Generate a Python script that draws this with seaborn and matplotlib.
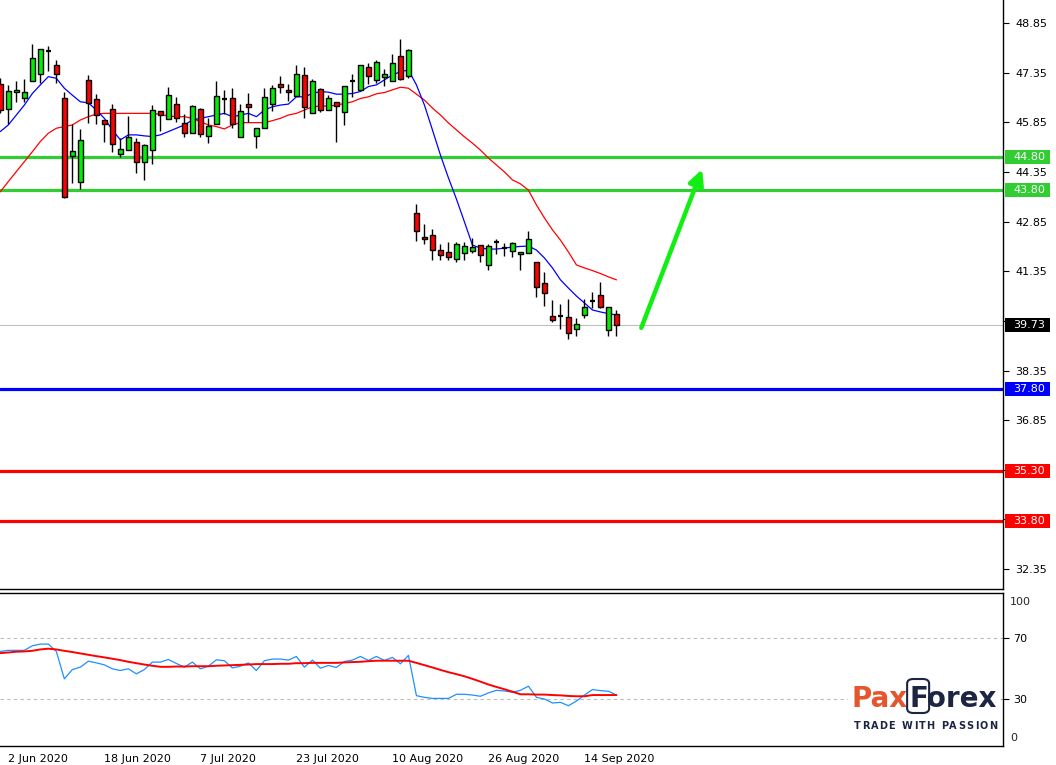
import numpy as np
import pandas as pd
import matplotlib
matplotlib.use("Agg")
import matplotlib.pyplot as plt
import matplotlib.transforms as mtransforms
from matplotlib.patches import Rectangle, FancyBboxPatch
import seaborn as sns

# ---------------- data ----------------
opens = [47.01, 46.24, 46.77, 46.58, 47.09, 47.30, 47.99, 47.57, 46.58, 44.82,
         44.06, 47.13, 46.56, 45.91, 46.24, 44.88, 45.00, 45.25, 44.64, 45.00,
         46.18, 45.94, 46.39, 45.82, 45.52, 46.24, 45.43, 45.79, 46.55, 46.58,
         45.40, 46.39, 45.43, 45.67, 46.39, 47.00, 46.83, 46.64, 47.27, 46.12,
         46.85, 46.21, 46.45, 46.15, 47.09, 46.82, 47.51, 47.12, 47.21, 47.09,
         47.84, 47.24, 43.11, 42.38, 42.44, 41.98, 41.92, 41.71, 41.89, 41.95,
         42.13, 41.53, 42.24, 42.04, 41.95, 41.86, 41.89, 41.62, 40.99, 39.99,
         40.01, 39.96, 39.60, 40.02, 40.46, 40.62, 39.57, 40.05]
highs = [47.19, 46.98, 47.11, 47.16, 48.22, 48.06, 48.16, 47.72, 46.76, 45.79,
         45.65, 47.28, 46.70, 45.91, 46.40, 45.37, 46.04, 45.37, 45.19, 46.36,
         46.18, 46.91, 46.60, 46.09, 46.36, 46.27, 45.97, 47.10, 46.83, 46.88,
         46.39, 46.73, 45.67, 46.88, 46.98, 47.25, 47.01, 47.58, 47.52, 47.15,
         46.88, 46.67, 46.45, 46.94, 47.30, 47.57, 47.64, 47.72, 47.45, 47.90,
         48.36, 48.06, 43.38, 42.78, 42.63, 42.16, 42.22, 42.22, 42.22, 42.35,
         42.13, 42.16, 42.32, 42.19, 42.24, 41.92, 42.56, 41.62, 41.32, 40.47,
         40.35, 40.50, 39.93, 40.50, 40.71, 41.02, 40.26, 40.17]
lows = [46.13, 45.80, 46.47, 46.47, 47.09, 47.03, 47.41, 47.03, 43.56, 44.02,
        43.84, 45.84, 45.80, 45.26, 44.96, 44.81, 45.00, 44.31, 44.11, 44.58,
        45.60, 45.94, 45.85, 45.40, 45.52, 45.42, 45.22, 45.79, 46.09, 45.67,
        45.40, 45.85, 45.08, 45.67, 46.18, 46.73, 46.50, 46.64, 45.97, 46.12,
        46.15, 46.21, 45.26, 45.76, 46.60, 46.82, 47.00, 47.03, 46.94, 47.09,
        47.12, 47.18, 42.27, 42.16, 41.70, 41.70, 41.68, 41.62, 41.68, 41.89,
        41.62, 41.38, 41.86, 41.82, 41.77, 41.38, 41.89, 40.56, 40.29, 39.81,
        39.60, 39.29, 39.38, 39.93, 40.23, 40.23, 39.38, 39.40]
closes = [46.22, 46.80, 46.83, 46.76, 47.78, 48.06, 47.99, 47.32, 43.58, 44.98,
          45.31, 46.42, 46.07, 45.79, 45.19, 45.03, 45.40, 44.64, 45.16, 46.21,
          46.06, 46.67, 45.97, 45.52, 46.33, 45.49, 45.73, 46.64, 46.55, 45.79,
          46.18, 46.30, 45.67, 46.60, 46.88, 46.91, 46.76, 47.30, 46.30, 47.09,
          46.21, 46.58, 46.33, 46.94, 47.09, 47.57, 47.24, 47.66, 47.30, 47.63,
          47.15, 48.03, 42.58, 42.32, 41.98, 41.83, 41.77, 42.16, 42.10, 42.07,
          41.83, 42.10, 42.24, 42.04, 42.19, 41.92, 42.32, 40.86, 40.68, 39.87,
          40.01, 39.48, 39.75, 40.26, 40.46, 40.26, 40.26, 39.73]

ma_fast = [45.57, 45.77, 46.07, 46.37, 46.72, 46.98, 47.23, 47.18, 46.88, 46.67,
           46.47, 46.44, 46.22, 45.97, 45.62, 45.32, 45.47, 45.47, 45.44, 45.42,
           45.47, 45.57, 45.67, 45.77, 45.92, 45.97, 46.02, 46.07, 46.12, 46.02,
           46.07, 46.12, 46.02, 46.22, 46.32, 46.37, 46.40, 46.62, 46.62, 46.72,
           46.78, 46.76, 46.70, 46.70, 46.72, 46.78, 46.93, 46.98, 47.13, 47.28,
           47.38, 47.43, 46.98, 46.37, 45.62, 44.86, 44.17, 43.53, 42.84, 42.14,
           42.05, 42.02, 42.02, 42.05, 42.08, 42.10, 42.11, 41.99, 41.75, 41.45,
           41.09, 40.84, 40.60, 40.39, 40.18, 40.12, 40.07, 40.03]
ma_slow = [43.75, 44.06, 44.36, 44.66, 44.96, 45.27, 45.52, 45.67, 45.72, 45.77,
           45.92, 46.02, 46.10, 46.12, 46.12, 46.12, 46.12, 46.12, 46.12, 46.12,
           46.09, 46.04, 46.02, 46.02, 45.97, 45.87, 45.77, 45.72, 45.65, 45.77,
           45.84, 45.84, 45.84, 45.84, 45.90, 45.97, 46.07, 46.12, 46.22, 46.32,
           46.34, 46.34, 46.37, 46.42, 46.47, 46.57, 46.62, 46.71, 46.75, 46.83,
           46.91, 46.88, 46.70, 46.52, 46.28, 46.07, 45.83, 45.62, 45.41, 45.22,
           45.01, 44.77, 44.56, 44.35, 44.11, 43.99, 43.80, 43.35, 42.96, 42.60,
           42.29, 41.93, 41.54, 41.45, 41.37, 41.28, 41.18, 41.09]

rsi = [61.2, 61.9, 61.9, 61.9, 64.9, 66.0, 66.0, 61.2, 43.2, 49.3,
       50.9, 54.8, 53.7, 52.4, 49.8, 48.7, 49.8, 46.5, 49.3, 54.2,
       54.2, 55.9, 53.3, 50.9, 54.2, 49.8, 51.5, 55.7, 55.1, 50.4,
       51.5, 53.7, 48.7, 55.1, 56.2, 56.2, 55.5, 57.9, 50.9, 55.5,
       50.2, 52.0, 50.7, 54.6, 55.5, 57.9, 55.3, 57.9, 55.3, 57.3,
       53.1, 58.6, 32.2, 31.1, 30.4, 30.4, 30.4, 33.1, 33.1, 32.6,
       31.8, 34.0, 35.7, 35.3, 34.4, 35.7, 38.4, 31.1, 30.0, 27.4,
       27.8, 25.6, 28.7, 32.6, 36.2, 35.5, 35.1, 32.6]
rsi_ma = [60.1, 60.5, 61.0, 61.2, 61.6, 62.5, 63.0, 62.5, 61.6, 60.8,
          59.9, 59.0, 58.1, 57.3, 56.4, 55.5, 54.4, 53.5, 52.6, 51.8,
          51.1, 51.1, 51.3, 51.3, 51.5, 51.5, 51.5, 51.8, 52.0, 52.2,
          52.4, 52.6, 52.9, 52.9, 52.9, 53.1, 53.1, 53.5, 53.5, 53.7,
          53.7, 53.7, 53.7, 54.0, 54.2, 54.4, 54.8, 55.1, 55.1, 55.1,
          55.1, 55.1, 53.7, 52.2, 50.7, 49.1, 47.6, 46.3, 44.9, 43.2,
          41.4, 39.5, 37.9, 36.4, 34.8, 33.1, 33.1, 32.9, 32.9, 32.6,
          32.4, 32.0, 31.8, 31.8, 32.6, 32.6, 32.6, 32.6]

date_labels = ["2 Jun 2020", "18 Jun 2020", "7 Jul 2020", "23 Jul 2020",
               "10 Aug 2020", "26 Aug 2020", "14 Sep 2020"]
date_bars = [1, 13, 25, 37, 49, 61, 73]

price_ticks = [48.85, 47.35, 45.85, 44.35, 42.85, 41.35, 39.85, 38.35, 36.85, 35.35, 33.85, 32.35]
level_values = [44.80, 43.80, 37.80, 35.30, 33.80]
level_colors = ["#32CD32", "#32CD32", "#0000FF", "#FF0000", "#FF0000"]
current_price = 39.73
rsi_levels = [70, 30]
arrow_from = (80.1, 39.64)
arrow_to = (87.7, 44.43)

# ---------------- figure ----------------
sns.set_style("white")
plt.rcParams["font.family"] = ["DejaVu Sans"]

W, H = 1056, 765
fig = plt.figure(figsize=(W / 100, H / 100), dpi=100)
fig.patch.set_facecolor("white")

ax = fig.add_axes([0, 1 - 589 / H, 1003 / W, 589 / H])
axr = fig.add_axes([0, 1 - 746 / H, 1003 / W, (746 - 593) / H])

idx = np.arange(len(closes))
df = pd.DataFrame({"i": idx, "o": opens, "h": highs, "l": lows, "c": closes,
                   "fast": ma_fast, "slow": ma_slow, "rsi": rsi, "rsi_ma": rsi_ma})

xlim = (-0.04, 125.3)

# ---- main price panel ----
ax.set_xlim(*xlim)
ax.set_ylim(31.75, 49.545)

for v, col in zip(level_values, level_colors):
    ax.axhline(v, color=col, lw=2.3, zorder=1)
ax.axhline(current_price, color="#C0C0C0", lw=0.8, zorder=1)

sns.lineplot(data=df, x="i", y="slow", ax=ax, color="#FF0000", lw=0.9, zorder=2)
sns.lineplot(data=df, x="i", y="fast", ax=ax, color="#0000FF", lw=0.9, zorder=2)

ax.vlines(df["i"], df["l"], df["h"], color="black", lw=1.0, zorder=3)
up = df["c"] > df["o"]
dn = df["c"] < df["o"]
eq = df["c"] == df["o"]
ax.bar(df["i"][up], (df["c"] - df["o"])[up], bottom=df["o"][up], width=0.62,
       color="#00EE00", edgecolor="black", linewidth=1.0, zorder=4)
ax.bar(df["i"][dn], (df["o"] - df["c"])[dn], bottom=df["c"][dn], width=0.62,
       color="#FF0000", edgecolor="black", linewidth=1.0, zorder=4)
ax.hlines(df["o"][eq], df["i"][eq] - 0.35, df["i"][eq] + 0.35, color="black", lw=1.6, zorder=4)

ax.annotate("", xy=arrow_to, xytext=arrow_from,
            arrowprops=dict(arrowstyle="-|>,head_length=0.9,head_width=0.45",
                            color="#11EE11", lw=3.2, shrinkA=0, shrinkB=0), zorder=5)

# tick labels hidden under the level boxes are left blank
covered = [current_price] + level_values
ax.yaxis.tick_right()
ax.set_yticks(price_ticks)
ax.set_yticklabels(["" if any(abs(t - c) < 0.2 for c in covered) else f"{t:.2f}"
                    for t in price_ticks])
ax.tick_params(axis="y", direction="out", length=4, width=0.8, pad=5,
               labelsize=8, colors="black")
ax.set_xticks([])
ax.set_xlabel("")
ax.set_ylabel("")
for s in ["left", "top"]:
    ax.spines[s].set_visible(False)
for s in ["right", "bottom"]:
    ax.spines[s].set_color("black")
    ax.spines[s].set_linewidth(1.0)

blend = mtransforms.blended_transform_factory(fig.transFigure, ax.transData)
box_h = 14 / 33.1
boxes = list(zip(level_values, level_colors)) + [(current_price, "black")]
for v, col in boxes:
    r = Rectangle((1005 / W, v - box_h / 2), 45 / W, box_h, transform=blend,
                  facecolor=col, edgecolor="none", clip_on=False, zorder=20)
    ax.add_patch(r)
    ax.text(1013 / W, v, f"{v:.2f}", transform=blend, color="white", fontsize=8,
            va="center", ha="left", zorder=21, clip_on=False)

# ---- RSI panel ----
axr.set_xlim(*xlim)
axr.set_ylim(-0.8, 99.5)
for lv in rsi_levels:
    axr.axhline(lv, color="#BBBBBB", lw=0.8, ls=(0, (3, 3)), zorder=1)
sns.lineplot(data=df, x="i", y="rsi_ma", ax=axr, color="#FF0000", lw=1.4, zorder=3)
sns.lineplot(data=df, x="i", y="rsi", ax=axr, color="#1E90FF", lw=0.9, zorder=2)
axr.yaxis.tick_right()
axr.set_yticks(rsi_levels)
axr.set_yticklabels([str(v) for v in rsi_levels])
axr.tick_params(axis="y", direction="out", length=4, width=0.8, pad=3,
                labelsize=8, colors="black")
axr.text(1.007, 0.94, "100", transform=axr.transAxes, fontsize=8, va="center", ha="left")
axr.text(1.007, 0.05, "0", transform=axr.transAxes, fontsize=8, va="center", ha="left")
axr.set_xticks(date_bars)
axr.set_xticklabels(date_labels)
for lbl in axr.get_xticklabels():
    lbl.set_horizontalalignment("left")
axr.tick_params(axis="x", direction="out", length=4, width=0.8, pad=2,
                labelsize=8, colors="black")
axr.set_xlabel("")
axr.set_ylabel("")
axr.spines["left"].set_visible(False)
for s in ["right", "bottom", "top"]:
    axr.spines[s].set_color("black")
    axr.spines[s].set_linewidth(1.0)
axr.set_facecolor("white")

# ---- logo ----
navy = "#1C2541"
t1 = fig.text(852 / W, 1 - 707 / H, "Pax", color="#E4572E", fontsize=20,
              fontweight="bold", family="DejaVu Sans", va="baseline", ha="left", zorder=30)
fig.canvas.draw()
bb = t1.get_window_extent()
t2 = fig.text((bb.x1 + 1) / W, 1 - 707 / H, "Forex", color=navy, fontsize=20,
              fontweight="bold", family="DejaVu Sans", va="baseline", ha="left", zorder=30)
fig.canvas.draw()
bb2 = t2.get_window_extent()
fbox = FancyBboxPatch(((bb2.x0 - 2) / W, 1 - 713 / H), 22 / W, 34 / H,
                      boxstyle="round,pad=0,rounding_size=0.006", transform=fig.transFigure,
                      facecolor="none", edgecolor=navy, lw=1.5, zorder=31)
fig.add_artist(fbox)
bg = Rectangle((848 / W, 1 - 733 / H), 152 / W, 58 / H, transform=fig.transFigure,
               facecolor="white", edgecolor="none", zorder=25)
fig.add_artist(bg)

# letter-spaced slogan, spread from x=854 to x=997 px
slogan = "TRADE WITH PASSION"
renderer = fig.canvas.get_renderer()
widths = []
for ch in slogan:
    tt = fig.text(0, 0, ch if ch != " " else "T", fontsize=7, fontweight="bold")
    w = tt.get_window_extent(renderer).width
    widths.append(w if ch != " " else w * 0.6)
    tt.remove()
extra = (997 - 854 - sum(widths)) / (len(slogan) - 1)
xpos = 854.0
for ch, w in zip(slogan, widths):
    if ch != " ":
        fig.text(xpos / W, 1 - 726 / H, ch, color=navy, fontsize=7, fontweight="bold",
                 va="center", ha="left", zorder=30)
    xpos += w + extra

fig.savefig("out.png", dpi=100, facecolor="white")
